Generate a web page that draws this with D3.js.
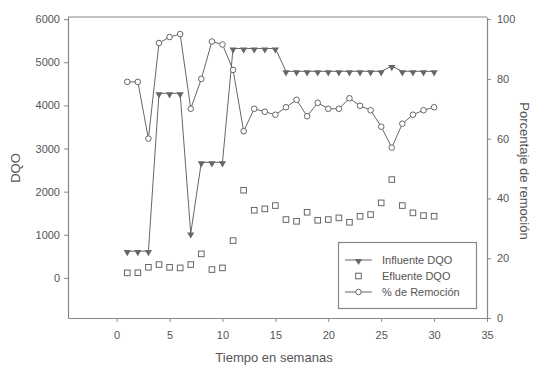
<!DOCTYPE html>
<html>
<head>
<meta charset="utf-8">
<script src="https://cdn.jsdelivr.net/npm/d3@7/dist/d3.min.js"></script>
<style>
  html, body { margin: 0; padding: 0; background: #fff; }
  svg { display: block; }
  text { font-family: "Liberation Sans", Arial, sans-serif; fill: #555; }
</style>
</head>
<body>
<svg id="chart" width="535" height="368"></svg>
<script>
// Weekly COD (DQO) data: influent, effluent and removal percentage
const weeks = d3.range(1, 31);
const influente = [620, 620, 620, 4280, 4280, 4280, 1030, 2680, 2680, 2680,
                   5320, 5320, 5320, 5320, 5320, 4790, 4790, 4790, 4790, 4790,
                   4790, 4790, 4790, 4790, 4790, 4910, 4790, 4790, 4790, 4790];
const efluente = [116, 120, 246, 309, 246, 232, 309, 557, 193, 232,
                  865, 2033, 1569, 1600, 1677, 1353, 1313, 1522, 1336, 1353,
                  1392, 1290, 1429, 1469, 1740, 2280, 1677, 1508, 1445, 1430];
const remocion = [79, 79, 60, 92, 94, 95, 70, 80, 92.5, 91.5,
                  83, 62.5, 70, 69, 68, 70.5, 73, 67.5, 72, 70,
                  70, 73.5, 71, 69.5, 64, 57, 65, 68, 69.5, 70.5];
const xTicks = [0, 5, 10, 15, 20, 25, 30, 35];
const yLeftTicks = [0, 1000, 2000, 3000, 4000, 5000, 6000];
const yRightTicks = [0, 20, 40, 60, 80, 100];
const legendLabels = ["Influente DQO", "Efluente DQO", "% de Remoción"];

const ink = "#666";
const svg = d3.select("#chart");
const L = 68, R = 487, T = 17, B = 318;

const x = d3.scaleLinear().domain([-4.6, 35]).range([L, R]);
const yL = d3.scaleLinear().domain([-930, 6050]).range([B, T]);
const yR = d3.scaleLinear().domain([0, 100.7]).range([B, T]);
const fmt = d3.format("d");

// frame top edge
svg.append("line").attr("x1", L).attr("x2", R).attr("y1", T).attr("y2", T)
  .attr("stroke", "#888").attr("stroke-width", 1.2);

function styleAxis(g) {
  g.select(".domain").attr("stroke", "#888").attr("stroke-width", 1.2);
  g.selectAll(".tick line").attr("stroke", "#888");
  g.selectAll(".tick text").attr("font-size", 11).style("fill", "#555")
    .attr("font-family", "Liberation Sans, Arial, sans-serif");
}

svg.append("g").attr("transform", `translate(0,${B})`)
  .call(d3.axisBottom(x).tickValues(xTicks).tickFormat(fmt).tickSize(4).tickSizeOuter(0).tickPadding(9))
  .call(styleAxis);
svg.append("g").attr("transform", `translate(${L},0)`)
  .call(d3.axisLeft(yL).tickValues(yLeftTicks).tickFormat(fmt).tickSize(4).tickSizeOuter(0).tickPadding(4))
  .call(styleAxis);
svg.append("g").attr("transform", `translate(${R},0)`)
  .call(d3.axisRight(yR).tickValues(yRightTicks).tickFormat(fmt).tickSize(4).tickSizeOuter(0).tickPadding(6))
  .call(styleAxis);

// axis titles
svg.append("text").attr("x", 274).attr("y", 362).attr("text-anchor", "middle")
  .attr("font-size", 13).text("Tiempo en semanas");
svg.append("text").attr("transform", "translate(20,168) rotate(-90)")
  .attr("text-anchor", "middle").attr("font-size", 13).text("DQO");
svg.append("text").attr("transform", "translate(520,171) rotate(90)")
  .attr("text-anchor", "middle").attr("font-size", 13).text("Porcentaje de remoción");

const tri = d3.symbol().type(d3.symbolTriangle).size(22);

// influent line with down-pointing triangles
const lineL = d3.line().x((d, i) => x(weeks[i])).y(d => yL(d));
svg.append("path").datum(influente).attr("d", lineL)
  .attr("fill", "none").attr("stroke", ink).attr("stroke-width", 1);
svg.append("g").selectAll("path").data(influente).join("path")
  .attr("d", tri)
  .attr("transform", (d, i) => `translate(${x(weeks[i])},${yL(d) + 1}) rotate(180)`)
  .attr("fill", ink);

// removal percentage line with open circles
const lineR = d3.line().x((d, i) => x(weeks[i])).y(d => yR(d));
svg.append("path").datum(remocion).attr("d", lineR)
  .attr("fill", "none").attr("stroke", ink).attr("stroke-width", 1);
svg.append("g").selectAll("circle").data(remocion).join("circle")
  .attr("cx", (d, i) => x(weeks[i])).attr("cy", d => yR(d)).attr("r", 2.8)
  .attr("fill", "#fff").attr("stroke", ink).attr("stroke-width", 1);

// effluent open squares
svg.append("g").selectAll("rect").data(efluente).join("rect")
  .attr("x", (d, i) => x(weeks[i]) - 2.8).attr("y", d => yL(d) - 2.8)
  .attr("width", 5.6).attr("height", 5.6)
  .attr("fill", "#fff").attr("stroke", ink).attr("stroke-width", 1);

// legend
const lg = svg.append("g");
lg.append("rect").attr("x", 338.5).attr("y", 242.5).attr("width", 138).attr("height", 66)
  .attr("fill", "#fff").attr("stroke", "#888").attr("stroke-width", 1.2);
const rowsY = [260, 276, 292];
legendLabels.forEach((lab, i) => {
  const cy = rowsY[i];
  if (i !== 1) {
    lg.append("line").attr("x1", 345).attr("x2", 372).attr("y1", cy).attr("y2", cy)
      .attr("stroke", ink).attr("stroke-width", 1);
  }
  if (i === 0) {
    lg.append("path").attr("d", tri).attr("transform", `translate(358.5,${cy + 1}) rotate(180)`).attr("fill", ink);
  } else if (i === 1) {
    lg.append("rect").attr("x", 355.7).attr("y", cy - 2.8).attr("width", 5.6).attr("height", 5.6)
      .attr("fill", "#fff").attr("stroke", ink);
  } else {
    lg.append("circle").attr("cx", 358.5).attr("cy", cy).attr("r", 2.8)
      .attr("fill", "#fff").attr("stroke", ink);
  }
  lg.append("text").attr("x", 382).attr("y", cy + 4).attr("font-size", 11).text(lab);
});
</script>
</body>
</html>
